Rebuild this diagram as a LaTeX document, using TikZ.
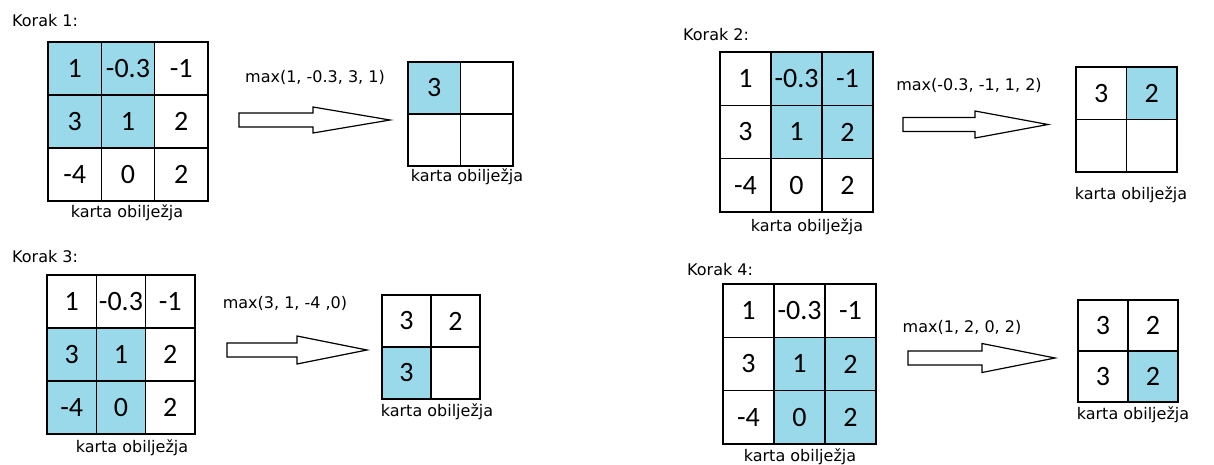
\documentclass[tikz,border=0pt]{standalone}
\usepackage{fontspec}
\setmainfont{Carlito}
\newfontfamily\labfont{DejaVu Sans}
\definecolor{hlblue}{RGB}{153,217,234}
\tikzset{
  cell/.style={draw=black, line width=1.6pt, inner sep=0pt, anchor=center,
               font=\fontsize{28}{28}\selectfont},
  hl/.style={fill=hlblue},
  nohl/.style={fill=white},
  lab/.style={font=\labfont\fontsize{16}{18}\selectfont, inner sep=0pt},
  bigarrow/.style={draw=black, line width=1.2pt, fill=white, line join=miter},
}
% name, left, top, cell width, cell height, list r/c/value/style
\newcommand{\cellgrid}[6]{%
  \foreach \r/\c/\v/\s in {#6} {
    \node[cell,\s,minimum width=#4, minimum height=#5] (#1-\r\c)
      at ({#2+(\c-0.5)*#4},{#3+(\r-0.5)*#5}) {\v};
  }}
% name, left x, centre y, head start offset, tip offset, shaft half height, head half height
\newcommand{\fatarrow}[7]{%
  \coordinate (#1s) at (#2,#3);
  \coordinate (#1t) at ({#2+#5},#3);
  \draw[bigarrow] (#2,{#3-#6}) -- ({#2+#4},{#3-#6}) -- ({#2+#4},{#3-#7})
     -- (#1t) -- ({#2+#4},{#3+#7}) -- ({#2+#4},{#3+#6}) -- (#2,{#3+#6}) -- cycle;
}
\begin{document}
\begin{tikzpicture}[x=1pt,y=-1pt]
\fill[white] (0,0) rectangle (1214,464);
\useasboundingbox (0,0) rectangle (1214,464);

% ---------- Korak 1 ----------
\node[lab, anchor=west] (k1) at (12,21) {Korak 1:};
\cellgrid{p1}{48}{42}{53.3}{53}{1/1/1/hl,1/2/-0.3/hl,1/3/-1/nohl,2/1/3/hl,2/2/1/hl,2/3/2/nohl,3/1/-4/nohl,3/2/0/nohl,3/3/2/nohl}
\node[lab] (l1) at (127,213) {karta obilježja};
\node[lab] (m1) at (315,77) {max(1, -0.3, 3, 1)};
\fatarrow{a1}{239}{120}{74}{151}{7}{13}
\cellgrid{o1}{408}{62}{52.5}{52}{1/1/3/hl,1/2//nohl,2/1//nohl,2/2//nohl}
\node[lab] (lo1) at (467,177) {karta obilježja};

% ---------- Korak 2 ----------
\node[lab, anchor=west] (k2) at (683,35) {Korak 2:};
\cellgrid{p2}{720}{52}{51}{53.3}{1/1/1/nohl,1/2/-0.3/hl,1/3/-1/hl,2/1/3/nohl,2/2/1/hl,2/3/2/hl,3/1/-4/nohl,3/2/0/nohl,3/3/2/nohl}
\node[lab] (l2) at (807,227) {karta obilježja};
\node[lab] (m2) at (969,85) {max(-0.3, -1, 1, 2)};
\fatarrow{a2}{903}{124.5}{72}{145}{7}{13.5}
\cellgrid{o2}{1076}{67}{50.5}{52.5}{1/1/3/nohl,1/2/2/hl,2/1//nohl,2/2//nohl}
\node[lab] (lo2) at (1131,195) {karta obilježja};

% ---------- Korak 3 ----------
\node[lab, anchor=west] (k3) at (12,257) {Korak 3:};
\cellgrid{p3}{47}{275}{49.3}{53}{1/1/1/nohl,1/2/-0.3/nohl,1/3/-1/nohl,2/1/3/hl,2/2/1/hl,2/3/2/nohl,3/1/-4/hl,3/2/0/hl,3/3/2/nohl}
\node[lab] (l3) at (132,448) {karta obilježja};
\node[lab] (m3) at (285,303) {max(3, 1, -4 ,0)};
\fatarrow{a3}{227}{350}{70}{140}{7}{14}
\cellgrid{o3}{382}{295}{49}{52}{1/1/3/nohl,1/2/2/nohl,2/1/3/hl,2/2//nohl}
\node[lab] (lo3) at (437,412) {karta obilježja};

% ---------- Korak 4 ----------
\node[lab, anchor=west] (k4) at (687,270) {Korak 4:};
\cellgrid{p4}{723}{284}{51}{53.3}{1/1/1/nohl,1/2/-0.3/nohl,1/3/-1/nohl,2/1/3/nohl,2/2/1/hl,2/3/2/hl,3/1/-4/nohl,3/2/0/hl,3/3/2/hl}
\node[lab] (l4) at (800,457) {karta obilježja};
\node[lab] (m4) at (962,327) {max(1, 2, 0, 2)};
\fatarrow{a4}{908}{358}{74}{147}{7}{14.5}
\cellgrid{o4}{1078}{300}{50}{51}{1/1/3/nohl,1/2/2/nohl,2/1/3/nohl,2/2/2/hl}
\node[lab] (lo4) at (1133,415) {karta obilježja};
\end{tikzpicture}
\end{document}
